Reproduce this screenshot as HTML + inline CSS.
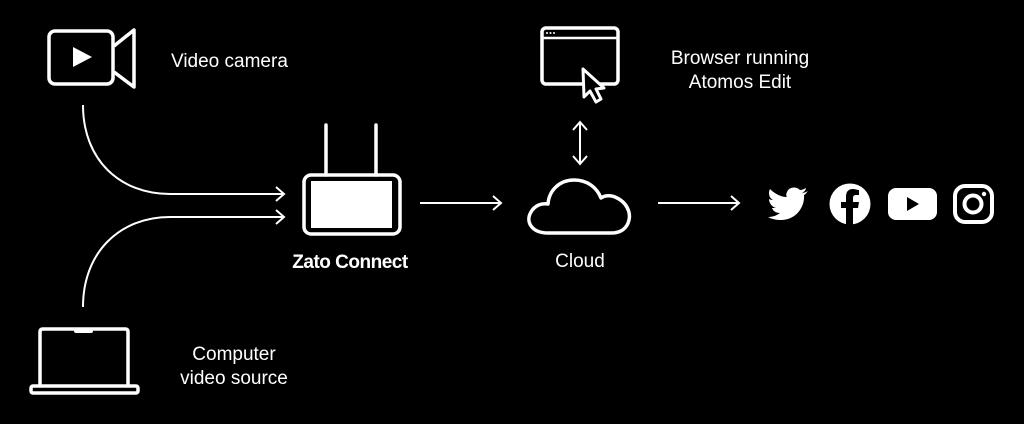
<!DOCTYPE html>
<html><head><style>
html,body{margin:0;padding:0;background:#000;width:1024px;height:424px;overflow:hidden}
svg{display:block}
text{font-family:"Liberation Sans",sans-serif;fill:#fff}
</style></head><body>
<svg width="1024" height="424" viewBox="0 0 1024 424" fill="none" stroke="#fff">
<!-- camera -->
<rect x="49" y="31" width="64" height="53" rx="6" stroke-width="3.5"/>
<path d="M114 46 L134 30 L134 87 L114 72" stroke-width="3.5" stroke-linejoin="round"/>
<path d="M73 47 L92 57 L73 67 Z" fill="#fff" stroke="none"/>
<text x="171" y="67" font-size="19" stroke="none">Video camera</text>
<!-- curves -->
<path d="M83 105 C83 160 120 194 170 194 L283 194" stroke-width="2"/>
<path d="M276 187 L284 194 L276 201" stroke-width="2"/>
<path d="M83 307 C83 252 120 217 170 217 L283 217" stroke-width="2"/>
<path d="M276 210 L284 217 L276 224" stroke-width="2"/>
<!-- laptop -->
<path d="M40 386 L40 332 Q40 329 43 329 L125 329 Q128 329 128 332 L128 386" stroke-width="3.5"/>
<rect x="31" y="386" width="107" height="7" rx="2" stroke-width="3.5"/>
<rect x="74" y="329" width="19" height="4" rx="2" fill="#fff" stroke="none"/>
<text x="234" y="360" font-size="19" stroke="none" text-anchor="middle">Computer</text>
<text x="234" y="384" font-size="19" stroke="none" text-anchor="middle">video source</text>
<!-- router -->
<rect x="304" y="175" width="96" height="59" rx="7" stroke-width="3.5"/>
<rect x="311" y="181" width="81" height="47" fill="#fff" stroke="none"/>
<line x1="326" y1="125" x2="326" y2="175" stroke-width="3.5" stroke-linecap="round"/>
<line x1="376" y1="125" x2="376" y2="175" stroke-width="3.5" stroke-linecap="round"/>
<text x="350" y="268" font-size="19" font-weight="bold" stroke="none" text-anchor="middle" letter-spacing="-0.5">Zato Connect</text>
<!-- arrow to cloud -->
<path d="M420 203 L500 203 M493 196 L501 203 L493 210" stroke-width="2"/>
<!-- cloud -->
<path d="M548 233 C532 233 525 222 531 212 C535 205 542 203 548 204 C549 190 560 180 574 180 C588 180 597 188 601 198 C605 195 612 195 617 198 C626 202 631 212 629 220 C627 229 620 233 611 233 Z" stroke-width="3.5" stroke-linejoin="round"/>
<text x="580" y="267" font-size="19" stroke="none" text-anchor="middle">Cloud</text>
<!-- double arrow -->
<path d="M580 123 L580 163 M573 130 L580 122 L587 130 M573 156 L580 164 L587 156" stroke-width="2"/>
<!-- browser -->
<rect x="542" y="28" width="76" height="56" rx="4" stroke-width="3.5"/>
<line x1="542" y1="38" x2="618" y2="38" stroke-width="2.5"/>
<circle cx="547" cy="33" r="1" fill="#fff" stroke="none"/>
<circle cx="550.5" cy="33" r="1" fill="#fff" stroke="none"/>
<circle cx="554" cy="33" r="1" fill="#fff" stroke="none"/>
<path d="M583 69 L584 97 L590 91 L596 102 L601 99 L596 89 L604 88 Z" fill="#000" stroke-width="3" stroke-linejoin="round"/>
<text x="740" y="64" font-size="19" stroke="none" text-anchor="middle">Browser running</text>
<text x="740" y="88" font-size="19" stroke="none" text-anchor="middle">Atomos Edit</text>
<!-- arrow to socials -->
<path d="M658 203 L738 203 M731 196 L739 203 L731 210" stroke-width="2"/>
<!-- twitter -->
<path d="M808 191 C806 192 804 193 802 193 C804 192 806 190 806 188 C804 189 802 190 800 190 C796 186 789 187 787 192 C786 194 786 196 787 197 C780 197 774 193 770 189 C768 193 769 198 773 200 C772 200 771 200 769 199 C769 203 772 207 776 208 C775 208 773 208 772 208 C773 211 776 213 780 213 C776 216 772 217 768 217 C772 219 776 220 781 220 C796 220 805 207 804 195 C806 194 807 192 808 191 Z" fill="#fff" stroke="none"/>
<!-- facebook -->
<circle cx="850" cy="204" r="20.5" fill="#fff" stroke="none"/>
<path d="M853 225 L853 208 L858 208 L859 202 L853 202 L853 198 C853 196 854 195 856 195 L859 195 L859 190 C857 190 855 189 853 189 C848 189 846 192 846 197 L846 202 L841 202 L841 208 L846 208 L846 225 Z" fill="#000" stroke="none"/>
<!-- youtube -->
<rect x="888" y="188" width="49" height="32" rx="8" fill="#fff" stroke="none"/>
<path d="M907 197 L919 204 L907 211 Z" fill="#000" stroke="none"/>
<!-- instagram -->
<rect x="955" y="186" width="37" height="36" rx="10" stroke-width="4"/>
<circle cx="973" cy="204" r="8.5" stroke-width="4"/>
<circle cx="984" cy="194" r="2.2" fill="#fff" stroke="none"/>
</svg>
</body></html>
